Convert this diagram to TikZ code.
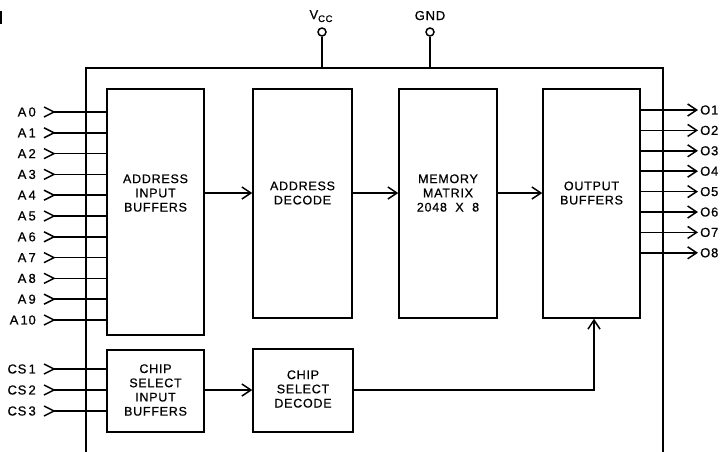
\documentclass[tikz,border=0pt]{standalone}
\usepackage{fontspec}
\newfontfamily\lbl[LetterSpace=6,FakeBold=0.6]{Liberation Sans}
\usetikzlibrary{arrows.meta,calc}
\begin{document}
\begin{tikzpicture}[x=1pt,y=-1pt,
  wire/.style={line width=1.5pt},
  blk/.style={draw,line width=1.5pt,inner sep=0pt},
  txt/.style={align=center,inner sep=0pt,font={\lbl\fontsize{12.5}{14.2}\selectfont}},
  pinlbl/.style={inner sep=0pt,font={\lbl\fontsize{13}{14}\selectfont}},
  arr/.style={line width=1.5pt,-{Straight Barb[length=9pt,width=12pt,line width=1.5pt]}},
  pwr/.style={circle,draw,line width=1.5pt,minimum size=8pt,inner sep=0pt}]
\useasboundingbox (0,0) rectangle (722,451);
\fill[white] (0,0) rectangle (722,451);
% small mark top-left
\fill (0,11) rectangle (1.8,24);
% outer frame
\coordinate (fbl) at (86,452);
\coordinate (ftl) at (86,68);
\coordinate (ftr) at (663,68);
\coordinate (fbr) at (663,452);
\draw[wire] (fbl) -- (ftl) -- (ftr) -- (fbr);
% power pins
\node[pwr] (vcc) at (322,32) {};
\node[pwr] (gnd) at (430,32) {};
\draw[wire] (vcc) -- (vcc |- ftl);
\draw[wire] (gnd) -- (gnd |- ftl);
\node[pinlbl,anchor=base] (vccl) at (321,19) {V{\fontsize{9.5}{10}\selectfont\raisebox{-3pt}{CC}}};
\node[pinlbl,anchor=base] (gndl) at (430,20) {GND};
% blocks
\node[blk,minimum width=97pt,minimum height=246pt] (aib) at (155.5,212) {};
\node[blk,minimum width=99pt,minimum height=229pt] (ad) at (302.5,203.5) {};
\node[blk,minimum width=98pt,minimum height=229pt] (mm) at (448,203.5) {};
\node[blk,minimum width=97pt,minimum height=229pt] (ob) at (591.5,203.5) {};
\node[blk,minimum width=97pt,minimum height=82pt] (csib) at (155.5,391) {};
\node[blk,minimum width=100pt,minimum height=83pt] (csd) at (303,390.5) {};
% texts
\node[txt] (aibt) at (155.5,193) {ADDRESS\\INPUT\\BUFFERS};
\node[txt] (adt) at (302.5,193) {ADDRESS\\DECODE};
\node[txt] (mmt) at (448,193) {MEMORY\\MATRIX\\2048\ \ X\ \ 8};
\node[txt] (obt) at (591.5,193) {OUTPUT\\BUFFERS};
\node[txt] (csibt) at (155.5,390) {CHIP\\SELECT\\INPUT\\BUFFERS};
\node[txt] (csdt) at (303,389) {CHIP\\SELECT\\DECODE};
% internal connectors
\coordinate (row) at (0,193);
\coordinate (csrow) at (0,390);
\draw[arr] (aib.east |- row) -- (ad.west |- row);
\draw[arr] (ad.east |- row) -- (mm.west |- row);
\draw[arr] (mm.east |- row) -- (ob.west |- row);
\draw[arr] (csib.east |- csrow) -- (csd.west |- csrow);
\coordinate (bend) at (594,390);
\draw[arr] (csd.east |- csrow) -- (bend) -- (bend |- ob.south);
% address inputs
\foreach \i in {0,...,10}{
  \pgfmathsetmacro\yy{112+\i*20.8}
  \coordinate (a\i) at (54,\yy);
  \node[pinlbl,anchor=east] (la\i) at (36,\yy) {A\,\i};
  \draw[wire] ($(a\i)+(-10,-5)$) -- (a\i) -- ($(a\i)+(-10,5)$);
  \draw[wire] (a\i) -- (aib.west |- a\i);
}
% chip select inputs
\foreach \i/\yy in {1/369,2/390,3/411}{
  \coordinate (c\i) at (54,\yy);
  \node[pinlbl,anchor=east] (lc\i) at (36,\yy) {CS\,\i};
  \draw[wire] ($(c\i)+(-10,-5)$) -- (c\i) -- ($(c\i)+(-10,5)$);
  \draw[wire] (c\i) -- (csib.west |- c\i);
}
% outputs
\foreach \i in {1,...,8}{
  \pgfmathsetmacro\yy{110+(\i-1)*20.4}
  \coordinate (o\i) at (698,\yy);
  \node[pinlbl,anchor=west] (lo\i) at (700,\yy) {O\i};
  \draw[arr] (ob.east |- o\i) -- (o\i);
}
\end{tikzpicture}
\end{document}
